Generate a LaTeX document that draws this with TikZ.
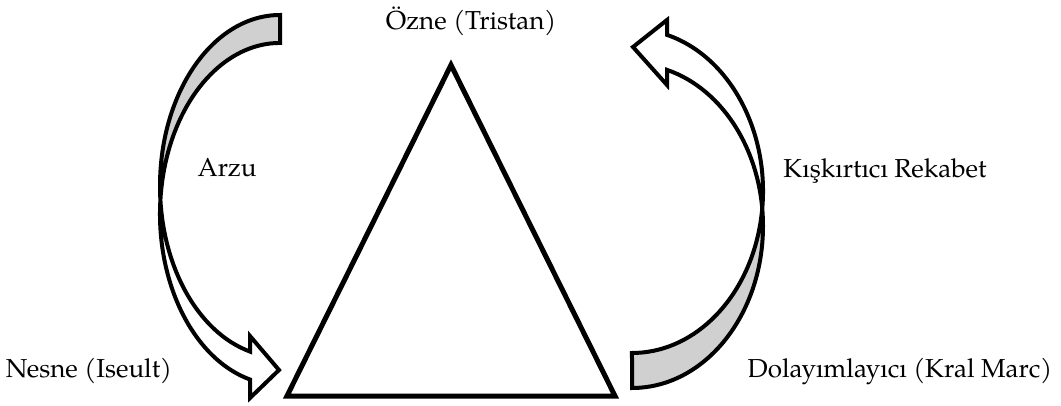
\documentclass[tikz,border=0pt]{standalone}
\usepackage{fontspec}
\setmainfont{TeX Gyre Pagella}
\definecolor{backgray}{RGB}{208,208,208}
\begin{document}
\begin{tikzpicture}[x=1pt,y=1pt,
  lbl/.style={anchor=base,inner sep=0pt,font=\fontsize{26}{30}\selectfont},
  arrowline/.style={line width=4pt,line join=miter},
  triline/.style={line width=5pt,line join=miter}]
\useasboundingbox (0,0) rectangle (1061,405);
% triangle
\coordinate (apex) at (451,340);
\coordinate (bl) at (287,9);
\coordinate (br) at (615,9);
\draw[triline] (apex) -- (bl) -- (br) -- cycle;
% left curved arrow
\coordinate (L1) at (280,390);
\coordinate (L2) at (280,362);
\coordinate (Lub) at (250,69);
\coordinate (Ltip) at (279,35);
\coordinate (Llb) at (250,7);
\coordinate (Lls) at (250,25.5);
\fill[white] (L1) arc[start angle=90,end angle=255.52,x radius=120,y radius=171]
  -- (Lub) -- (Ltip) -- (Llb) -- (Lls)
  arc[start angle=255.52,end angle=90,x radius=120,y radius=171] -- cycle;
\fill[backgray] (L1) arc[start angle=90,end angle=184.7,x radius=120,y radius=171]
  arc[start angle=175.3,end angle=90,x radius=120,y radius=171] -- cycle;
\draw[arrowline] (L1) arc[start angle=90,end angle=255.52,x radius=120,y radius=171]
  -- (Lub) -- (Ltip) -- (Llb) -- (Lls)
  arc[start angle=255.52,end angle=90,x radius=120,y radius=171] -- cycle;
% right curved arrow
\coordinate (R1) at (632,17);
\coordinate (R2) at (632,52);
\coordinate (Rlb) at (667,320);
\coordinate (Rtip) at (633,358);
\coordinate (Rub) at (667,385);
\coordinate (Rus) at (667,370.1);
\fill[white] (R1) arc[start angle=-90,end angle=74.5,x radius=131,y radius=162]
  -- (Rlb) -- (Rtip) -- (Rub) -- (Rus)
  arc[start angle=74.5,end angle=-90,x radius=131,y radius=162] -- cycle;
\fill[backgray] (R1) arc[start angle=-90,end angle=6.2,x radius=131,y radius=162]
  arc[start angle=-6.2,end angle=-90,x radius=131,y radius=162] -- cycle;
\draw[arrowline] (R1) arc[start angle=-90,end angle=74.5,x radius=131,y radius=162]
  -- (Rlb) -- (Rtip) -- (Rub) -- (Rus)
  arc[start angle=74.5,end angle=-90,x radius=131,y radius=162] -- cycle;
% labels
\node[lbl] (ozne) at (471,375) {Özne (Tristan)};
\node[lbl] (arzu) at (227,228) {Arzu};
\node[lbl] (kisk) at (885,227) {Kışkırtıcı Rekabet};
\node[lbl] (nesne) at (89,28) {Nesne (Iseult)};
\node[lbl] (dolay) at (900,28) {Dolayımlayıcı (Kral Marc)};
\end{tikzpicture}
\end{document}
